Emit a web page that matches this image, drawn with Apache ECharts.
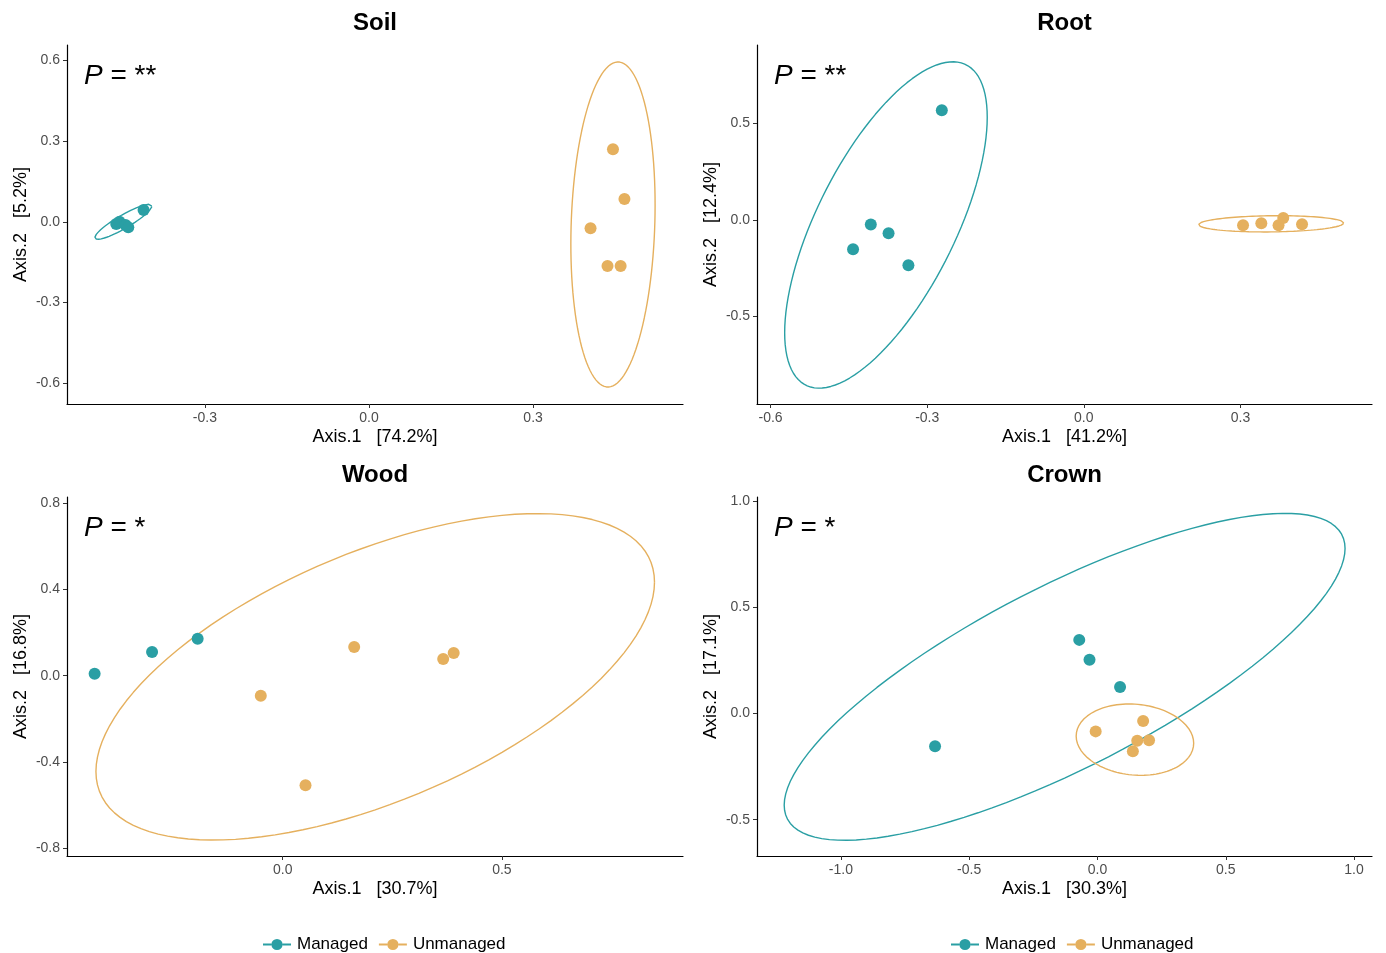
<!DOCTYPE html>
<html>
<head>
<meta charset="utf-8">
<script src="https://cdn.jsdelivr.net/npm/echarts@6/dist/echarts.min.js"></script>
<style>
  html, body { margin: 0; padding: 0; background: #fff; }
  #main { width: 1386px; height: 953px; }
</style>
</head>
<body>
<div id="main"></div>
<script>
// 数据：四个面板的 PCoA 坐标
var soilManaged = [[-0.462, -0.008], [-0.456, 0.0], [-0.445, -0.012], [-0.440, -0.020], [-0.412, 0.044]];
var soilUnmanaged = [[0.446, 0.270], [0.467, 0.085], [0.405, -0.024], [0.436, -0.164], [0.460, -0.164]];
var rootManaged = [[-0.272, 0.568], [-0.408, -0.024], [-0.374, -0.069], [-0.442, -0.152], [-0.336, -0.234]];
var rootUnmanaged = [[0.305, -0.027], [0.340, -0.017], [0.373, -0.027], [0.382, 0.010], [0.418, -0.022]];
var woodManaged = [[-0.429, 0.009], [-0.298, 0.110], [-0.194, 0.172]];
var woodUnmanaged = [[-0.050, -0.093], [0.052, -0.508], [0.163, 0.134], [0.366, 0.078], [0.390, 0.106]];
var crownManaged = [[-0.071, 0.347], [-0.031, 0.253], [0.088, 0.125], [-0.633, -0.154]];
var crownUnmanaged = [[-0.007, -0.084], [0.178, -0.035], [0.155, -0.128], [0.201, -0.126], [0.138, -0.178]];

// 椭圆参数 [中心x, 中心y, x半宽, y半高, 相关系数]
var soilEllManaged = [-0.449, 0.0, 0.052, 0.065, 0.9];
var soilEllUnmanaged = [0.446, -0.010, 0.077, 0.604, 0.12];
var rootEllManaged = [-0.379, -0.026, 0.194, 0.845, 0.66];
var rootEllUnmanaged = [0.359, -0.020, 0.139, 0.042, 0.1];
var woodEllUnmanaged = [0.211, -0.005, 0.637, 0.758, 0.58];
var crownEllManaged = [-0.128, 0.173, 1.093, 0.770, 0.785];
var crownEllUnmanaged = [0.146, -0.123, 0.229, 0.168, -0.1];

// 坐标轴
var titles = ['Soil', 'Root', 'Wood', 'Crown'];
var pLabels = ['**', '**', '*', '*'];
var xNames = ['Axis.1   [74.2%]', 'Axis.1   [41.2%]', 'Axis.1   [30.7%]', 'Axis.1   [30.3%]'];
var yNames = ['Axis.2   [5.2%]', 'Axis.2   [12.4%]', 'Axis.2   [16.8%]', 'Axis.2   [17.1%]'];
var xRanges = [[-0.552, 0.574], [-0.626, 0.552], [-0.492, 0.913], [-1.327, 1.070]];
var yRanges = [[-0.677, 0.657], [-0.953, 0.906], [-0.837, 0.830], [-0.671, 1.020]];
var xTicks = [[-0.3, 0, 0.3], [-0.6, -0.3, 0, 0.3], [0, 0.5], [-1, -0.5, 0, 0.5, 1]];
var yTicks = [[-0.6, -0.3, 0, 0.3, 0.6], [-0.5, 0, 0.5], [-0.8, -0.4, 0, 0.4, 0.8], [-0.5, 0, 0.5, 1]];

var teal = '#2A9FA4';
var gold = '#E5B05E';
var font = '"Liberation Sans", Arial, sans-serif';

function ellipse(p) {
  var pts = [];
  for (var i = 0; i <= 120; i++) {
    var t = i / 120 * Math.PI * 2;
    pts.push([p[0] + p[2] * Math.cos(t),
              p[1] + p[3] * (p[4] * Math.cos(t) + Math.sqrt(1 - p[4] * p[4]) * Math.sin(t))]);
  }
  return pts;
}

var myChart = echarts.init(document.getElementById('main'));

var grids = [
  {left: 67, top: 45, width: 616, height: 359},
  {left: 757, top: 45, width: 615, height: 359},
  {left: 67, top: 497, width: 616, height: 359},
  {left: 757, top: 497, width: 615, height: 359}
];

var xAxes = [], yAxes = [], graphics = [];
for (let i = 0; i < 4; i++) {
  var common = {
    axisLine: {onZero: false, lineStyle: {color: '#000', width: 1.2}},
    axisTick: {length: 4, lineStyle: {color: '#333'}},
    axisLabel: {color: '#4d4d4d', fontSize: 14, fontFamily: font,
                formatter: function (v) { return v.toFixed(1); }},
    splitLine: {show: false},
    nameLocation: 'middle',
    nameTextStyle: {color: '#000', fontSize: 18, fontFamily: font}
  };
  xAxes.push(echarts.util.merge({
    type: 'value', gridIndex: i, min: xRanges[i][0], max: xRanges[i][1],
    name: xNames[i], nameGap: 24,
    axisTick: {customValues: xTicks[i]},
    axisLabel: {customValues: xTicks[i], margin: 7}
  }, common));
  yAxes.push(echarts.util.merge({
    type: 'value', gridIndex: i, min: yRanges[i][0], max: yRanges[i][1],
    name: yNames[i], nameGap: 37,
    axisTick: {customValues: yTicks[i]},
    axisLabel: {customValues: yTicks[i], margin: 7}
  }, common));
  var g = grids[i];
  graphics.push({
    type: 'text', x: g.left + g.width / 2, y: g.top - 22,
    style: {text: titles[i], fontSize: 24, fontWeight: 'bold', fontFamily: font,
            fill: '#000', textAlign: 'center', textVerticalAlign: 'middle'}
  });
  graphics.push({
    type: 'text', x: g.left + 17, y: g.top + 17,
    style: {text: '{i|P} = ' + pLabels[i], fontSize: 28, fontFamily: font, fill: '#000',
            rich: {i: {fontStyle: 'italic', fontSize: 28, fontFamily: font}}}
  });
}

function pointSeries(name, data, idx, color) {
  return {name: name, type: 'scatter', xAxisIndex: idx, yAxisIndex: idx, data: data,
          symbolSize: 12, itemStyle: {color: color, opacity: 1}, z: 3};
}
function ellSeries(name, p, idx, color) {
  return {name: name, type: 'line', xAxisIndex: idx, yAxisIndex: idx, data: ellipse(p),
          showSymbol: false, silent: true, itemStyle: {color: color},
          lineStyle: {color: color, width: 1.4}, z: 2};
}

var series = [
  pointSeries('Managed', soilManaged, 0, teal),
  pointSeries('Unmanaged', soilUnmanaged, 0, gold),
  ellSeries('Managed', soilEllManaged, 0, teal),
  ellSeries('Unmanaged', soilEllUnmanaged, 0, gold),
  pointSeries('Managed', rootManaged, 1, teal),
  pointSeries('Unmanaged', rootUnmanaged, 1, gold),
  ellSeries('Managed', rootEllManaged, 1, teal),
  ellSeries('Unmanaged', rootEllUnmanaged, 1, gold),
  pointSeries('Managed', woodManaged, 2, teal),
  pointSeries('Unmanaged', woodUnmanaged, 2, gold),
  ellSeries('Unmanaged', woodEllUnmanaged, 2, gold),
  pointSeries('Managed', crownManaged, 3, teal),
  pointSeries('Unmanaged', crownUnmanaged, 3, gold),
  ellSeries('Managed', crownEllManaged, 3, teal),
  ellSeries('Unmanaged', crownEllUnmanaged, 3, gold)
];

// 图例图标：线 + 圆点
var legendIcon = 'path://M0,9h9v2h-9z M21,9h9v2h-9z M9,10a6,6 0 1,0 12,0a6,6 0 1,0 -12,0z';
function makeLegend(left) {
  return {
    left: left, top: 931, itemWidth: 28, itemHeight: 12, itemGap: 11, icon: legendIcon,
    data: ['Managed', 'Unmanaged'],
    textStyle: {color: '#000', fontSize: 17, fontFamily: font, padding: [0, 0, 0, 1]}
  };
}

var option = {
  animation: false,
  backgroundColor: '#fff',
  grid: grids,
  xAxis: xAxes,
  yAxis: yAxes,
  legend: [makeLegend(258), makeLegend(946)],
  graphic: graphics,
  series: series
};
myChart.setOption(option);
</script>
</body>
</html>
